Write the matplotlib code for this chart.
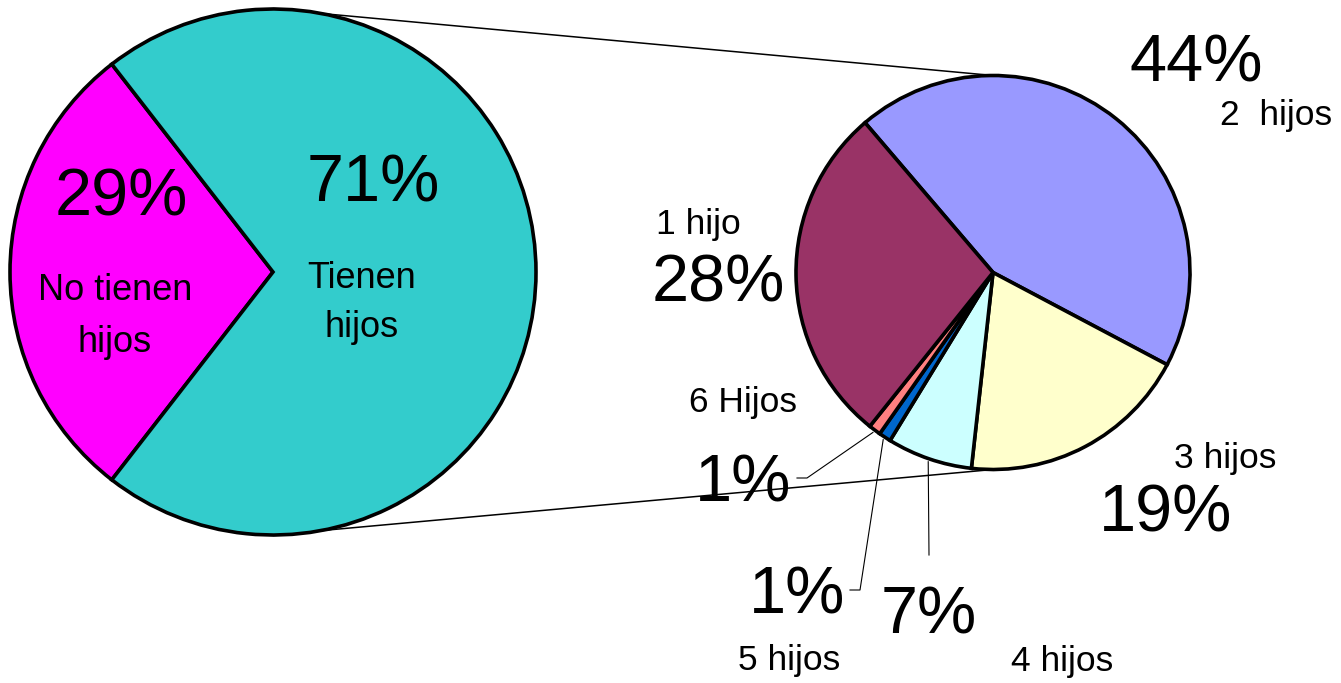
import matplotlib
matplotlib.use('Agg')
import matplotlib.pyplot as plt
import numpy as np

plt.rcParams['font.family'] = ['Liberation Sans', 'DejaVu Sans']

# ---------------- data ----------------
main_labels = ['No tienen\nhijos', 'Tienen\nhijos']
main_values = [29, 71]
main_colors = ['#FF00FF', '#33CCCC']

sub_labels = ['2  hijos', '3 hijos', '4 hijos', '5 hijos', '6 Hijos', '1 hijo']
sub_values = [44, 19, 7, 1, 1, 28]
sub_colors = ['#9999FF', '#FFFFCC', '#CCFFFF', '#0066CC', '#FF8080', '#993366']

# ---------------- layout (pixel space, y measured from top) ----------------
W, H = 1341, 683
def iy(y):
    return H - y

cL, rL = (273, 272), 263
cR, rR = (993, 272.5), 197

fig = plt.figure(figsize=(W / 100, H / 100), dpi=100)
ax = fig.add_axes([0, 0, 1, 1])

edge = dict(edgecolor='black', linewidth=2.6)
wL, _ = ax.pie(main_values, colors=main_colors, startangle=180 - 29 * 3.6 / 2,
               counterclock=True, center=(cL[0], iy(cL[1])), radius=rL,
               wedgeprops=edge, frame=True)
wR, _ = ax.pie(sub_values, colors=sub_colors, startangle=130.5,
               counterclock=False, center=(cR[0], iy(cR[1])), radius=rR,
               wedgeprops=edge, frame=True)
for w in list(wL) + list(wR):
    w.set_zorder(3)

# connector lines between the two pies
ax.plot([cL[0], cR[0]], [iy(cL[1]) + rL, iy(cR[1]) + rR], color='black', lw=1.1, zorder=2)
ax.plot([cL[0], cR[0]], [iy(cL[1]) - rL, iy(cR[1]) - rR], color='black', lw=1.1, zorder=2)

BIG, SMALL = 48, 25.5

# main pie labels
main_pct_pos = [(121, 215), (373, 202)]
main_lab_pos = [[(115, 300), (115, 352)], [(362, 288), (362, 337)]]
for v, lab, pp, lp in zip(main_values, main_labels, main_pct_pos, main_lab_pos):
    ax.text(pp[0], iy(pp[1]), f'{v}%', fontsize=BIG, ha='center', va='baseline', zorder=5)
    for line, (x, y) in zip(lab.split('\n'), lp):
        ax.text(x, iy(y), line, fontsize=SMALL + 0.5, ha='center', va='baseline', zorder=5)

# sub pie labels
sub_pct_pos = [(1196, 82), (1166, 532), (929, 634), (797, 613), (743, 502), (718, 302)]
sub_lab_pos = [(1276, 125), (1225, 468), (1062, 671), (789, 670), (743, 412), (698, 234)]
for v, lab, pp, lp in zip(sub_values, sub_labels, sub_pct_pos, sub_lab_pos):
    ax.text(pp[0], iy(pp[1]), f'{v}%', fontsize=BIG, ha='center', va='baseline', zorder=5)
    ax.text(lp[0], iy(lp[1]), lab, fontsize=SMALL, ha='center', va='baseline', zorder=5)

# leader lines for the small slices
leader_ends = {2: [(929, 555)], 3: [(860, 590), (850, 590)], 4: [(807, 478), (797, 478)]}
for i, pts in leader_ends.items():
    w = wR[i]
    mid = np.deg2rad((w.theta1 + w.theta2) / 2)
    sx = cR[0] + (rR + 3) * np.cos(mid)
    sy = iy(cR[1]) + (rR + 3) * np.sin(mid)
    xs = [sx] + [p[0] for p in pts]
    ys = [sy] + [iy(p[1]) for p in pts]
    ax.plot(xs, ys, color='black', lw=0.8, zorder=4)

ax.set_xlim(0, W)
ax.set_ylim(0, H)
ax.set_aspect('equal', adjustable='box')
ax.axis('off')

fig.savefig('out.png', dpi=100, facecolor='white')
